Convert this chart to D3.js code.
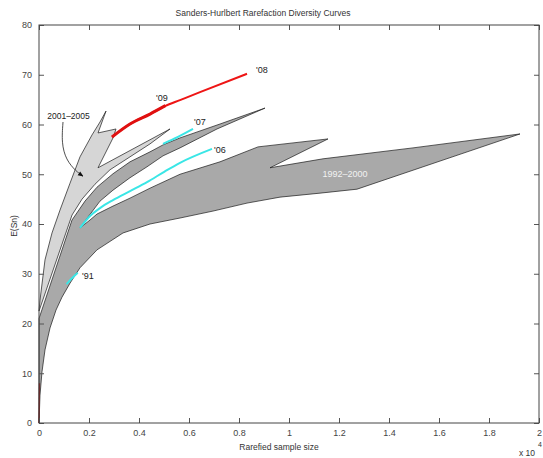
<!DOCTYPE html>
<html>
<head>
<meta charset="utf-8">
<script src="https://cdn.jsdelivr.net/npm/d3@7"></script>
<style>
body{margin:0;background:#fff;}
text{font-family:"Liberation Sans",Arial,sans-serif;}
</style>
</head>
<body>
<div id="chart"></div>
<script>
var W = 543, H = 458;
var margin = {top: 25, right: 4, bottom: 35, left: 39};

// x values in units of 10^4 samples
var xTicks = [0,0.2,0.4,0.6,0.8,1,1.2,1.4,1.6,1.8,2];
var xTickLabels = ["0","0.2","0.4","0.6","0.8","1","1.2","1.4","1.6","1.8","2"];
var yTicks = [0,10,20,30,40,50,60,70,80];
var yTickLabels = ["0","10","20","30","40","50","60","70","80"];

// 1992-2000 envelope (with the '07 arm joined on)
var band9200 = [
  [0,0],[0.004,5.6],[0.012,10.3],[0.024,14.7],[0.044,19.1],[0.068,22.7],[0.092,25.3],
  [0.124,28.1],[0.164,31.2],[0.232,34.8],[0.336,38.2],[0.444,40.0],[0.564,41.2],
  [0.696,42.6],[0.832,44.2],[0.964,45.4],[1.124,46.2],[1.272,47.0],[1.924,58.1],
  [1.496,55.3],[1.136,53.1],[0.924,51.3],[1.156,57.1],[0.876,55.5],[0.724,52.5],
  [0.564,50.0],[0.444,47.2],[0.364,45.2],[0.296,43.6],[0.232,42.0],[0.204,40.8],[0.164,39.2],
  [0.196,41.4],[0.244,44.6],[0.296,46.8],[0.364,49.3],[0.432,51.5],[0.496,53.7],
  [0.564,55.3],[0.712,59.1],[0.904,63.3],
  [0.724,60.1],[0.564,57.3],[0.496,55.9],[0.444,54.5],[0.364,52.5],[0.296,50.1],
  [0.232,47.4],[0.184,44.6],[0.132,40.8],[0,21]
];

// 2001-2005 envelope
var band0105 = [
  [0,22.5],[0.004,24.7],[0.024,32.8],[0.052,38.2],[0.084,42.8],[0.124,48.2],
  [0.164,53.5],[0.212,57.9],[0.244,60.5],[0.268,62.7],[0.236,58.3],[0.308,59.1],
  [0.296,57.3],[0.236,51.3],[0.524,59.1],[0.444,56.1],[0.364,53.5],[0.284,50.9],
  [0.224,48.0],[0.172,45.0],[0.132,41.8]
];

var curve08 = [[0.292,57.5],[0.364,60.1],[0.444,62.1],[0.504,63.7],[0.564,64.9],[0.644,66.5],[0.832,70.2]];
var curve09 = [[0.292,57.5],[0.364,60.1],[0.444,62.1],[0.506,63.8]];
var curve07 = [[0.496,56.1],[0.556,57.5],[0.616,59.1]];
var curve06 = [[0.164,39.2],[0.204,41.6],[0.244,43.2],[0.296,44.8],[0.364,46.6],[0.432,48.4],[0.504,50.6],[0.564,52.3],[0.692,55.1]];
var curve91 = [[0.11,27.9],[0.13,29.0],[0.155,30.2]];
var stub08 = [[0,0],[0.002,8]];

var arrow0105 = [[0.096,60.5],[0.090,56.3],[0.108,52.9],[0.148,50.6],[0.176,49.6]];

var x = d3.scaleLinear().domain([0,2]).range([margin.left, W - margin.right]);
var y = d3.scaleLinear().domain([0,80]).range([H - margin.bottom, margin.top]);

var svg = d3.select("#chart").append("svg")
  .attr("width", W).attr("height", H);

svg.append("defs").append("marker")
  .attr("id","head").attr("viewBox","0 0 10 10")
  .attr("refX",9).attr("refY",5)
  .attr("markerWidth",7).attr("markerHeight",7)
  .attr("orient","auto")
  .append("path").attr("d","M0,1L10,5L0,9Z").attr("fill","#111");

var line = d3.line().x(d => x(d[0])).y(d => y(d[1]));
var smooth = d3.line().x(d => x(d[0])).y(d => y(d[1])).curve(d3.curveMonotoneX);

var plot = svg.append("g");

plot.append("path").attr("d", line(band9200) + "Z")
  .attr("fill","#a9a9a9").attr("stroke","#1a1a1a").attr("stroke-width",0.7);
plot.append("path").attr("d", line(band0105) + "Z")
  .attr("fill","#d6d6d6").attr("stroke","#1a1a1a").attr("stroke-width",0.7);

plot.append("path").attr("d", line(stub08)).attr("fill","none")
  .attr("stroke","#8b1010").attr("stroke-width",1.2);

var cyan = "#3ae6e6";
[curve06, curve07, curve91].forEach(function(c){
  plot.append("path").attr("d", smooth(c)).attr("fill","none")
    .attr("stroke",cyan).attr("stroke-width",2);
});
plot.append("path").attr("d", smooth(curve08)).attr("fill","none")
  .attr("stroke","#ee1515").attr("stroke-width",2);
plot.append("path").attr("d", smooth(curve09)).attr("fill","none")
  .attr("stroke","#e01010").attr("stroke-width",3);

plot.append("path").attr("d", d3.line().x(d => x(d[0])).y(d => y(d[1])).curve(d3.curveBasis)(arrow0105))
  .attr("fill","none").attr("stroke","#222").attr("stroke-width",0.8)
  .attr("marker-end","url(#head)");

// curve labels
var lab = svg.append("g").attr("font-size",9).attr("fill","#222");
lab.append("text").attr("x",x(0.868)).attr("y",y(70.3)).text("'08");
lab.append("text").attr("x",x(0.468)).attr("y",y(64.7)).text("'09");
lab.append("text").attr("x",x(0.62)).attr("y",y(59.9)).text("'07");
lab.append("text").attr("x",x(0.70)).attr("y",y(54.3)).text("'06");
lab.append("text").attr("x",x(0.172)).attr("y",y(28.9)).text("'91");
lab.append("text").attr("x",x(0.118)).attr("y",y(61.1)).attr("text-anchor","middle")
  .attr("font-size",8.5).text("2001–2005");
lab.append("text").attr("x",x(1.224)).attr("y",y(49.45)).attr("text-anchor","middle")
  .attr("fill","#f2f2f2").text("1992–2000");

// axes, ticks pointing inward on all four sides
var gx = svg.append("g").attr("transform","translate(0," + y(0) + ")")
  .call(d3.axisBottom(x).tickValues(xTicks).tickFormat((d,i) => xTickLabels[i])
    .tickSizeInner(-5).tickSizeOuter(0).tickPadding(7));
var gy = svg.append("g").attr("transform","translate(" + x(0) + ",0)")
  .call(d3.axisLeft(y).tickValues(yTicks).tickFormat((d,i) => yTickLabels[i])
    .tickSizeInner(-5).tickSizeOuter(0).tickPadding(7));
var gt = svg.append("g").attr("transform","translate(0," + y(80) + ")")
  .call(d3.axisTop(x).tickValues(xTicks).tickFormat("").tickSizeInner(-5).tickSizeOuter(0));
var gr = svg.append("g").attr("transform","translate(" + x(2) + ",0)")
  .call(d3.axisRight(y).tickValues(yTicks).tickFormat("").tickSizeInner(-5).tickSizeOuter(0));

[gx, gy, gt, gr].forEach(function(g){
  g.select(".domain").remove();
  g.selectAll(".tick line").attr("stroke","#555");
  g.selectAll("text").attr("font-size",9).attr("fill","#444")
    .attr("font-family",'"Liberation Sans",Arial,sans-serif');
});

svg.append("rect")
  .attr("x",x(0)).attr("y",y(80))
  .attr("width",x(2) - x(0)).attr("height",y(0) - y(80))
  .attr("fill","none").attr("stroke","#444").attr("stroke-width",1);

svg.append("text").attr("x",263).attr("y",16).attr("text-anchor","middle")
  .attr("font-size",8.5).attr("fill","#333")
  .text("Sanders-Hurlbert Rarefaction Diversity Curves");
svg.append("text").attr("x",279).attr("y",450).attr("text-anchor","middle")
  .attr("font-size",8.5).attr("fill","#333").text("Rarefied sample size");
svg.append("text").attr("transform","translate(17,226) rotate(-90)")
  .attr("text-anchor","middle").attr("font-size",8.5).attr("fill","#333").text("E(Sn)");
var ex = svg.append("text").attr("x",519).attr("y",456).attr("font-size",8.5).attr("fill","#333");
ex.append("tspan").text("x 10");
ex.append("tspan").attr("x",538).attr("y",447).attr("font-size",7).text("4");
</script>
</body>
</html>
